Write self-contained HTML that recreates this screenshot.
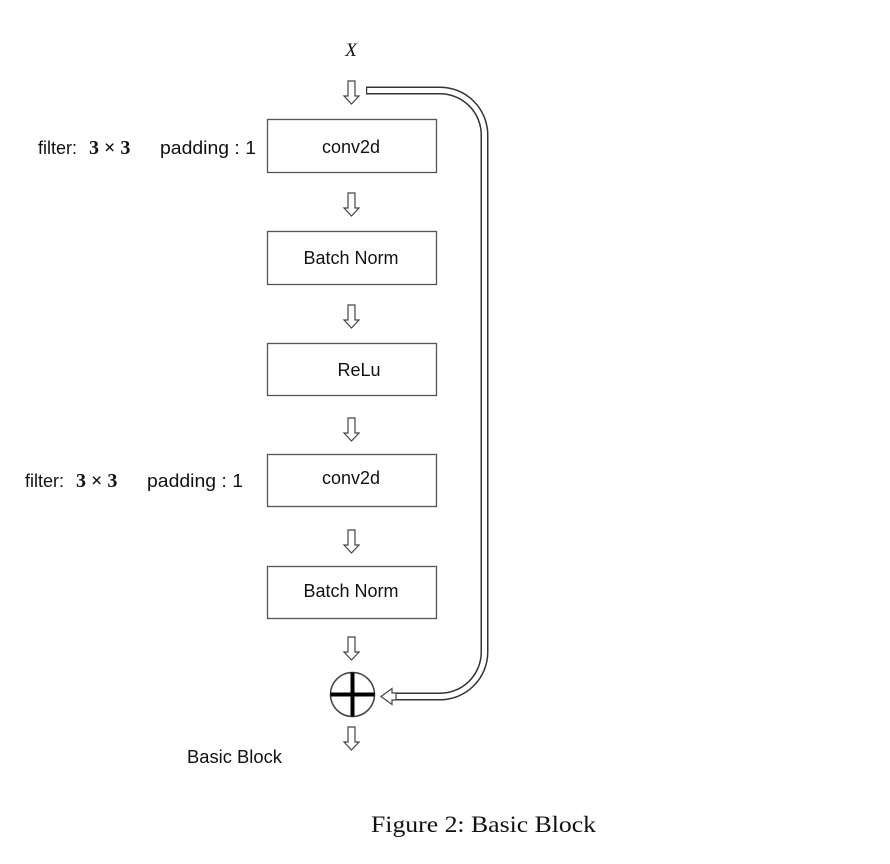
<!DOCTYPE html>
<html><head><meta charset="utf-8"><style>
html,body{margin:0;padding:0;background:#fff;}
svg{display:block;}
.t{font-family:"Liberation Sans",sans-serif;font-size:18px;fill:#111;}
</style></head><body>
<svg width="890" height="864" viewBox="0 0 890 864" xmlns="http://www.w3.org/2000/svg">
<defs>
<path id="da" d="M-3.5,0 L3.5,0 L3.5,15 L7.5,15 L0,23 L-7.5,15 L-3.5,15 Z" fill="#fff" stroke="#444" stroke-width="1.2"/>
</defs>
<text x="351" y="56" font-family="Liberation Serif,serif" font-style="italic" font-size="19" text-anchor="middle" fill="#111">X</text>
<path d="M366,90.5 L440,90.5 A44.5,44.5 0 0 1 484.5,135 L484.5,652 A44.5,44.5 0 0 1 440,696.5 L392,696.5" fill="none" stroke="#333" stroke-width="8"/>
<path d="M366,90.5 L440,90.5 A44.5,44.5 0 0 1 484.5,135 L484.5,652 A44.5,44.5 0 0 1 440,696.5 L390,696.5" fill="none" stroke="#fff" stroke-width="5"/>
<path d="M366.6,87 L366.6,94" stroke="#333" stroke-width="1.2"/>
<path d="M381,696.5 L392,688.5 L392,693 L396,693 L396,700 L392,700 L392,704.5 Z" fill="#fff" stroke="#444" stroke-width="1.2"/>
<use href="#da" x="351.5" y="81"/>
<use href="#da" x="351.5" y="193"/>
<use href="#da" x="351.5" y="305"/>
<use href="#da" x="351.5" y="418"/>
<use href="#da" x="351.5" y="530"/>
<use href="#da" x="351.5" y="637"/>
<use href="#da" x="351.5" y="727"/>
<g fill="#fff" stroke="#555" stroke-width="1.3">
<rect x="267.5" y="119.5" width="169" height="53"/>
<rect x="267.5" y="231.5" width="169" height="53"/>
<rect x="267.5" y="343.5" width="169" height="52"/>
<rect x="267.5" y="454.5" width="169" height="52"/>
<rect x="267.5" y="566.5" width="169" height="52"/>
</g>
<text class="t" x="351" y="153" text-anchor="middle">conv2d</text>
<text class="t" x="351" y="264" text-anchor="middle">Batch Norm</text>
<text class="t" x="359" y="376" text-anchor="middle">ReLu</text>
<text class="t" x="351" y="484" text-anchor="middle">conv2d</text>
<text class="t" x="351" y="597" text-anchor="middle">Batch Norm</text>
<g>
<text class="t" x="38" y="154">filter:</text>
<text x="89" y="154" font-family="Liberation Serif,serif" font-weight="bold" font-size="20" fill="#111">3 × 3</text>
<text class="t" x="160" y="154" textLength="96" lengthAdjust="spacingAndGlyphs">padding : 1</text>
<text class="t" x="25" y="487">filter:</text>
<text x="76" y="487" font-family="Liberation Serif,serif" font-weight="bold" font-size="20" fill="#111">3 × 3</text>
<text class="t" x="147" y="487" textLength="96" lengthAdjust="spacingAndGlyphs">padding : 1</text>
</g>
<circle cx="352.5" cy="694.5" r="22" fill="#fff" stroke="#444" stroke-width="1.5"/>
<path d="M352.5,672.5 V716.5 M330.5,694.5 H374.5" stroke="#000" stroke-width="4"/>
<text class="t" x="187" y="763" textLength="95" lengthAdjust="spacingAndGlyphs">Basic Block</text>
<text x="371" y="832" font-family="Liberation Serif,serif" font-size="23" fill="#111" textLength="225" lengthAdjust="spacingAndGlyphs">Figure 2: Basic Block</text>
</svg>
</body></html>
